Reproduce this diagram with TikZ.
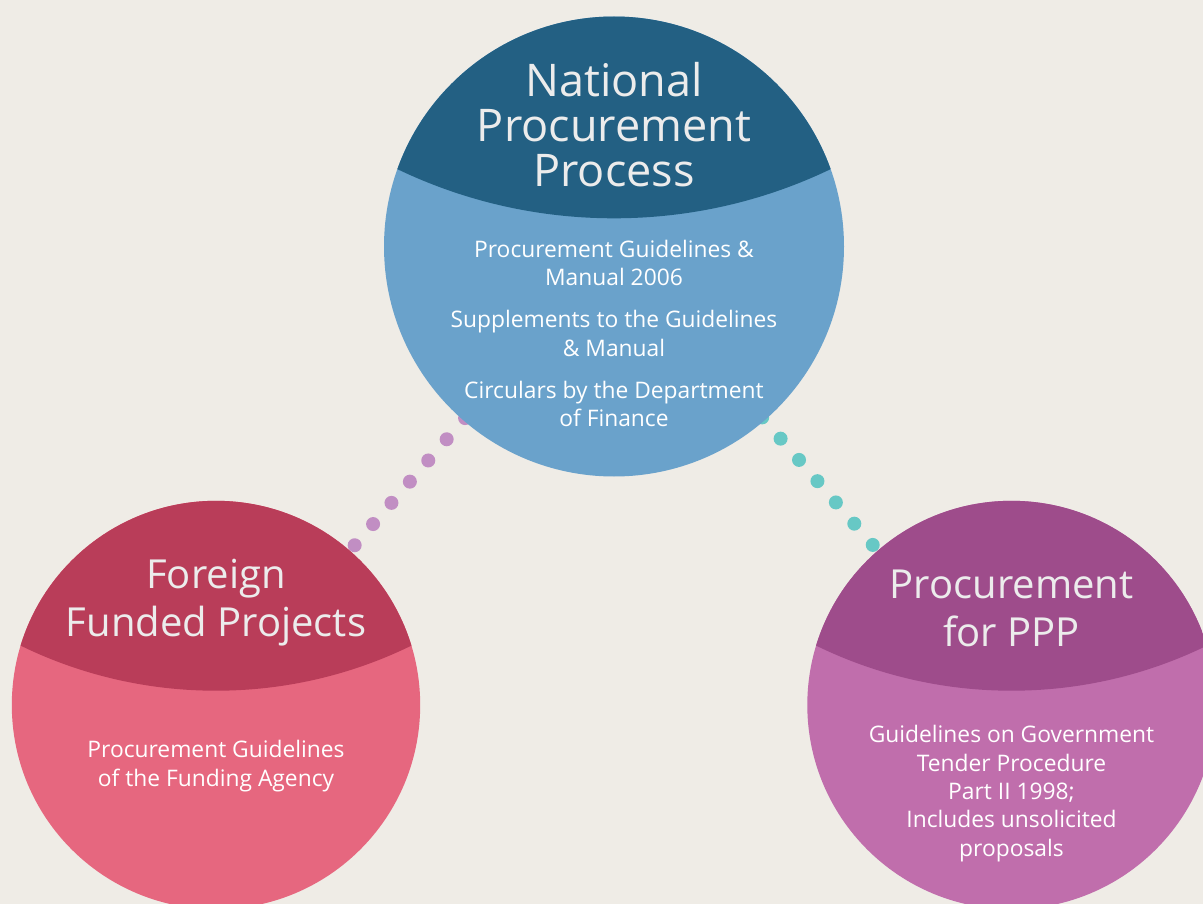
\documentclass[tikz,border=0pt]{standalone}
\usepackage{fontspec}
\setmainfont{Open Sans}
\usetikzlibrary{calc}
\definecolor{bg}{HTML}{EFECE6}
\definecolor{topcap}{HTML}{236083}
\definecolor{topbody}{HTML}{6AA2CB}
\definecolor{leftcap}{HTML}{B93D59}
\definecolor{leftbody}{HTML}{E6677F}
\definecolor{rightcap}{HTML}{9E4C8B}
\definecolor{rightbody}{HTML}{C06EAC}
\definecolor{purpdot}{HTML}{C18EC3}
\definecolor{tealdot}{HTML}{67C8C5}
\definecolor{titletext}{HTML}{ECECEC}
\tikzset{
  bigtitle/.style={text=titletext, align=center, anchor=base, inner sep=0pt, font=\fontsize{45}{45}\selectfont},
  smalltitle/.style={text=titletext, align=center, anchor=base, inner sep=0pt, font=\fontsize{40}{48.5}\selectfont},
  bodytext/.style={text=white, align=center, anchor=base, inner sep=0pt, font=\fontsize{22.8}{28.3}\selectfont},
}
\begin{document}
\begin{tikzpicture}[x=1pt,y=-1pt]
\fill[bg] (0,0) rectangle (1203,904);
\useasboundingbox (0,0) rectangle (1203,904);
\coordinate (topc) at (614,246.5);
\coordinate (leftc) at (216,705);
\coordinate (rightc) at (1011.5,705);
% left circle
\fill[leftbody] (leftc) circle (204.2pt);
\begin{scope}
  \clip (leftc) circle (204.2pt);
  \fill[leftcap] (216,245.7) circle (445pt);
\end{scope}
% right circle
\fill[rightbody] (rightc) circle (204.2pt);
\begin{scope}
  \clip (rightc) circle (204.2pt);
  \fill[rightcap] (1011.5,245.7) circle (445pt);
\end{scope}
% dotted connectors
\foreach \i in {0,...,6}{
  \pgfmathsetmacro{\dd}{227.2+\i*28.07}
  \fill[purpdot] ($(topc)!\dd pt!(leftc)$) circle (7pt);
  \pgfmathsetmacro{\de}{226.2+\i*28.13}
  \fill[tealdot] ($(topc)!\de pt!(rightc)$) circle (7pt);
}
% top circle
\fill[topbody] (topc) circle (230pt);
\begin{scope}
  \clip (topc) circle (230pt);
  \fill[topcap] (614,-282.3) circle (500.6pt);
\end{scope}
% texts (base anchor = baseline of last line)
\node[bigtitle] (ttitle) at (614,187) {National\\Procurement\\Process};
\node[bodytext] (tb1) at (614,286) {Procurement Guidelines \&\\Manual 2006};
\node[bodytext] (tb2) at (614,356) {Supplements to the Guidelines\\\& Manual};
\node[bodytext] (tb3) at (614,426.7) {Circulars by the Department\\of Finance};
\node[smalltitle] (ltitle) at (216,636.7) {Foreign\\Funded Projects};
\node[bodytext] (lb) at (216,786) {Procurement Guidelines\\of the Funding Agency};
\node[smalltitle] (rtitle) at (1011.5,646.7) {Procurement\\for PPP};
\node[bodytext] (rb) at (1011.5,856) {Guidelines on Government\\Tender Procedure\\Part II 1998;\\Includes unsolicited\\proposals};
\end{tikzpicture}
\end{document}
